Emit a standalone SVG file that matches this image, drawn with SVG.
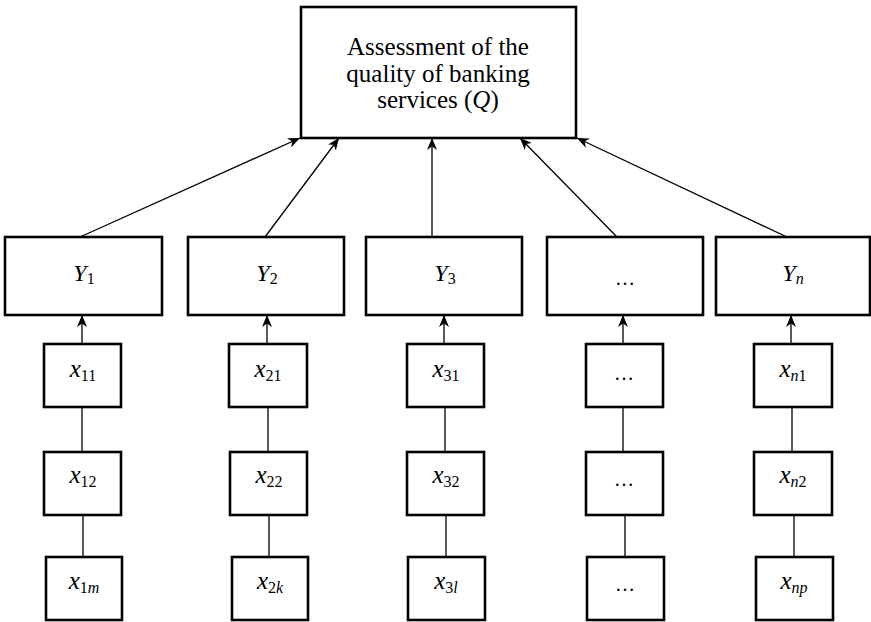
<svg xmlns="http://www.w3.org/2000/svg" width="871" height="622" viewBox="0 0 871 622">
<defs>
<style>
.box{fill:#fff;stroke:#000;stroke-width:2.6}
.ln{stroke:#000;stroke-width:1.3;fill:none}
.arr{marker-end:url(#ah)}
.t{font-family:"Liberation Serif","Times New Roman",serif;fill:#000;text-anchor:middle}
.title{font-size:25px}
.Y{font-size:24px;font-style:italic}
.x{font-size:25px;font-style:italic}
.sub{font-size:16px;font-style:normal}
.si{font-size:16px;font-style:italic}
.dots{font-size:20px}
</style>
<marker id="ah" markerUnits="userSpaceOnUse" markerWidth="12" markerHeight="10" refX="12" refY="5" orient="auto">
<path d="M0,0 L12,5 L0,10 L3.5,5 z" fill="#000"/>
</marker>
</defs>
<rect width="871" height="622" fill="#fff"/>
<g id="connectors">
<line class="ln arr" x1="80" y1="237" x2="300" y2="138"/>
<line class="ln arr" x1="265" y1="237" x2="339" y2="138"/>
<line class="ln arr" x1="432" y1="237" x2="432" y2="138"/>
<line class="ln arr" x1="617" y1="237" x2="520" y2="138"/>
<line class="ln arr" x1="787" y1="237" x2="577" y2="138"/>
<line class="ln arr" x1="82" y1="344" x2="82" y2="315"/>
<line class="ln arr" x1="267" y1="344" x2="267" y2="315"/>
<line class="ln arr" x1="444" y1="344" x2="444" y2="315"/>
<line class="ln arr" x1="623" y1="344" x2="623" y2="315"/>
<line class="ln arr" x1="791" y1="344" x2="791" y2="315"/>
<line class="ln" x1="82" y1="407" x2="82" y2="452"/>
<line class="ln" x1="83" y1="515" x2="83" y2="557"/>
<line class="ln" x1="268" y1="407" x2="268" y2="452"/>
<line class="ln" x1="269" y1="515" x2="269" y2="557"/>
<line class="ln" x1="445" y1="407" x2="445" y2="452"/>
<line class="ln" x1="446" y1="515" x2="446" y2="557"/>
<line class="ln" x1="623" y1="407" x2="623" y2="452"/>
<line class="ln" x1="625" y1="515" x2="625" y2="557"/>
<line class="ln" x1="792" y1="407" x2="792" y2="452"/>
<line class="ln" x1="794" y1="515" x2="794" y2="557"/>
</g>
<g id="Q">
<rect class="box" x="301" y="7" width="275" height="131"/>
<text class="t title" x="438" y="55">Assessment of the</text>
<text class="t title" x="438" y="82">quality of banking</text>
<text class="t title" x="438" y="108">services (<tspan font-style="italic">Q</tspan>)</text>
</g>
<g id="Y1">
<rect class="box" x="5" y="237" width="157" height="78"/>
<text class="t Y" x="84" y="281">Y<tspan class="sub" dy="3">1</tspan></text>
</g>
<g id="Y2">
<rect class="box" x="188" y="237" width="156" height="78"/>
<text class="t Y" x="267" y="281">Y<tspan class="sub" dy="3">2</tspan></text>
</g>
<g id="Y3">
<rect class="box" x="366" y="237" width="156" height="78"/>
<text class="t Y" x="445" y="281">Y<tspan class="sub" dy="3">3</tspan></text>
</g>
<g id="Ydots">
<rect class="box" x="547" y="237" width="156" height="78"/>
<text class="t dots" x="625" y="285">…</text>
</g>
<g id="Yn">
<rect class="box" x="716" y="237" width="154" height="78"/>
<text class="t Y" x="793" y="281">Y<tspan class="si" dy="3">n</tspan></text>
</g>
<g id="x11">
<rect class="box" x="44" y="344" width="77" height="63"/>
<text class="t x" x="83" y="377">x<tspan class="sub" dy="4">11</tspan></text>
</g>
<g id="x12">
<rect class="box" x="44" y="452" width="77" height="63"/>
<text class="t x" x="83" y="483">x<tspan class="sub" dy="4">12</tspan></text>
</g>
<g id="x1m">
<rect class="box" x="46" y="557" width="76" height="63"/>
<text class="t x" x="84" y="589">x<tspan class="sub" dy="4">1<tspan font-style="italic">m</tspan></tspan></text>
</g>
<g id="x21">
<rect class="box" x="229" y="344" width="78" height="63"/>
<text class="t x" x="268" y="377">x<tspan class="sub" dy="4">21</tspan></text>
</g>
<g id="x22">
<rect class="box" x="230" y="452" width="77" height="63"/>
<text class="t x" x="269" y="483">x<tspan class="sub" dy="4">22</tspan></text>
</g>
<g id="x2k">
<rect class="box" x="232" y="557" width="76" height="63"/>
<text class="t x" x="270" y="589">x<tspan class="sub" dy="4">2<tspan font-style="italic">k</tspan></tspan></text>
</g>
<g id="x31">
<rect class="box" x="407" y="344" width="77" height="63"/>
<text class="t x" x="446" y="377">x<tspan class="sub" dy="4">31</tspan></text>
</g>
<g id="x32">
<rect class="box" x="407" y="452" width="77" height="63"/>
<text class="t x" x="446" y="483">x<tspan class="sub" dy="4">32</tspan></text>
</g>
<g id="x3l">
<rect class="box" x="408" y="557" width="77" height="63"/>
<text class="t x" x="446" y="589">x<tspan class="sub" dy="4">3<tspan font-style="italic">l</tspan></tspan></text>
</g>
<g id="d1">
<rect class="box" x="586" y="344" width="77" height="63"/>
<text class="t dots" x="624" y="380">…</text>
</g>
<g id="d2">
<rect class="box" x="586" y="452" width="77" height="63"/>
<text class="t dots" x="624" y="486">…</text>
</g>
<g id="d3">
<rect class="box" x="587" y="557" width="77" height="63"/>
<text class="t dots" x="625" y="591">…</text>
</g>
<g id="xn1">
<rect class="box" x="754" y="344" width="78" height="63"/>
<text class="t x" x="793" y="377">x<tspan class="si" dy="4">n</tspan><tspan class="sub">1</tspan></text>
</g>
<g id="xn2">
<rect class="box" x="754" y="452" width="78" height="63"/>
<text class="t x" x="793" y="483">x<tspan class="si" dy="4">n</tspan><tspan class="sub">2</tspan></text>
</g>
<g id="xnp">
<rect class="box" x="756" y="557" width="77" height="63"/>
<text class="t x" x="794" y="589">x<tspan class="si" dy="4">np</tspan></text>
</g>
</svg>
